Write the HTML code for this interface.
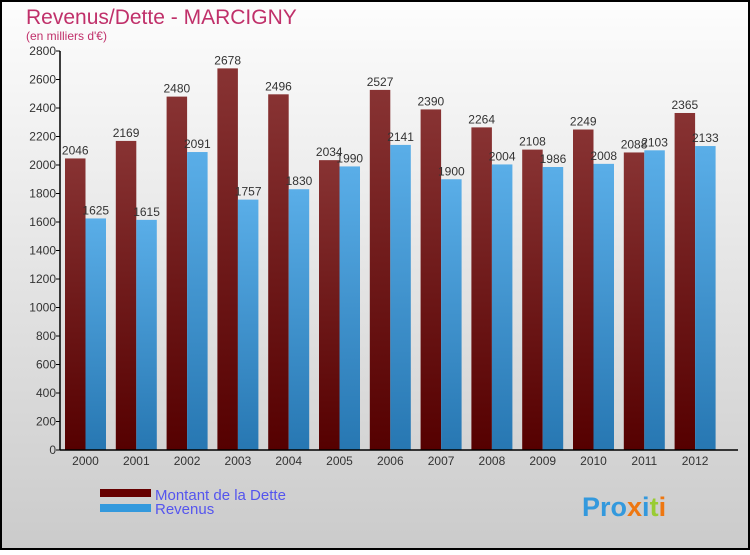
<!DOCTYPE html>
<html><head><meta charset="utf-8"><style>
body{margin:0;width:750px;height:550px;overflow:hidden;font-family:"Liberation Sans",sans-serif}
</style></head><body>
<svg width="750" height="550" xmlns="http://www.w3.org/2000/svg">
<defs>
<linearGradient id="bg" x1="0" y1="0" x2="0" y2="1"><stop offset="0" stop-color="#fdfdfd"/><stop offset="1" stop-color="#cbcbcb"/></linearGradient>
<linearGradient id="gd" x1="0" y1="0" x2="0" y2="1"><stop offset="0" stop-color="#883333"/><stop offset="1" stop-color="#550000"/></linearGradient>
<linearGradient id="gr" x1="0" y1="0" x2="0" y2="1"><stop offset="0" stop-color="#5aaee8"/><stop offset="1" stop-color="#2777b2"/></linearGradient>
</defs>
<rect x="1" y="1" width="748" height="548" fill="url(#bg)" stroke="#000" stroke-width="2"/>
<text x="26" y="24" font-size="21" fill="#c0306a">Revenus/Dette - MARCIGNY</text>
<text x="26" y="40" font-size="12" fill="#c0306a">(en milliers d'€)</text>
<g id="grid"></g>
<g id="bars"></g>
<g id="axes"></g>
<rect x="100" y="489" width="51" height="8" fill="#660000"/>
<rect x="100" y="504" width="51" height="8" fill="#3399dd"/>
<text x="155" y="500" font-size="15" fill="#5555ee">Montant de la Dette</text>
<text x="155" y="514" font-size="15" fill="#5555ee">Revenus</text>
<text x="582" y="516" font-size="27" font-weight="bold"><tspan fill="#3399dd">Pro</tspan><tspan fill="#ee7711">x</tspan><tspan fill="#3399dd">i</tspan><tspan fill="#99cc33">t</tspan><tspan fill="#ee7711">i</tspan></text>
</svg>
<script>
const years=["2000","2001","2002","2003","2004","2005","2006","2007","2008","2009","2010","2011","2012"];
const dette=[2046,2169,2480,2678,2496,2034,2527,2390,2264,2108,2249,2088,2365];
const revenus=[1625,1615,2091,1757,1830,1990,2141,1900,2004,1986,2008,2103,2133];
const ticks=[0,200,400,600,800,1000,1200,1400,1600,1800,2000,2200,2400,2600,2800];
const NS="http://www.w3.org/2000/svg";
const x0=60,y0=450,ymax=2800,ph=399,step=50.8,bw=20.5;
const y=v=>y0-v/ymax*ph;
const gx=i=>x0+5+i*step;
function mk(t,a,p){const e=document.createElementNS(NS,t);for(const k in a)e.setAttribute(k,a[k]);document.getElementById(p).appendChild(e);return e;}
const ax=document.getElementById('axes');
let l=mk('line',{x1:x0,y1:y0,x2:738,y2:y0,stroke:'#000','stroke-width':1.5},'axes');


l=mk('line',{x1:x0,y1:y0,x2:x0,y2:y(2800),stroke:'#000','stroke-width':1.5},'axes');


ticks.forEach(t=>{
 const tk=mk('line',{x1:x0-4,y1:y(t),x2:x0,y2:y(t),stroke:'#000'},'axes');
 
 
 const tx=mk('text',{x:x0-4,y:y(t)+4,'font-size':12,'text-anchor':'end',fill:'#333'},'axes');
 tx.textContent=t;
 
 
});
years.forEach((yr,i)=>{
 const bx=gx(i);
 const r1=mk('rect',{x:bx,y:y(dette[i]),width:bw,height:y0-y(dette[i]),fill:'url(#gd)'},'bars');
 
 
 const r2=mk('rect',{x:bx+bw,y:y(revenus[i]),width:bw,height:y0-y(revenus[i]),fill:'url(#gr)'},'bars');
 
 
 const t1=mk('text',{x:bx+bw/2,y:y(dette[i])-4,'font-size':12,'text-anchor':'middle',fill:'#333'},'bars');
 t1.textContent=dette[i];
 
 
 const t2=mk('text',{x:bx+bw*1.5,y:y(revenus[i])-4,'font-size':12,'text-anchor':'middle',fill:'#333'},'bars');
 t2.textContent=revenus[i];
 
 
 const xl=mk('text',{x:bx+bw,y:y0+15,'font-size':12,'text-anchor':'middle',fill:'#333'},'axes');
 xl.textContent=yr;
 
 
});
</script>
</body></html>
